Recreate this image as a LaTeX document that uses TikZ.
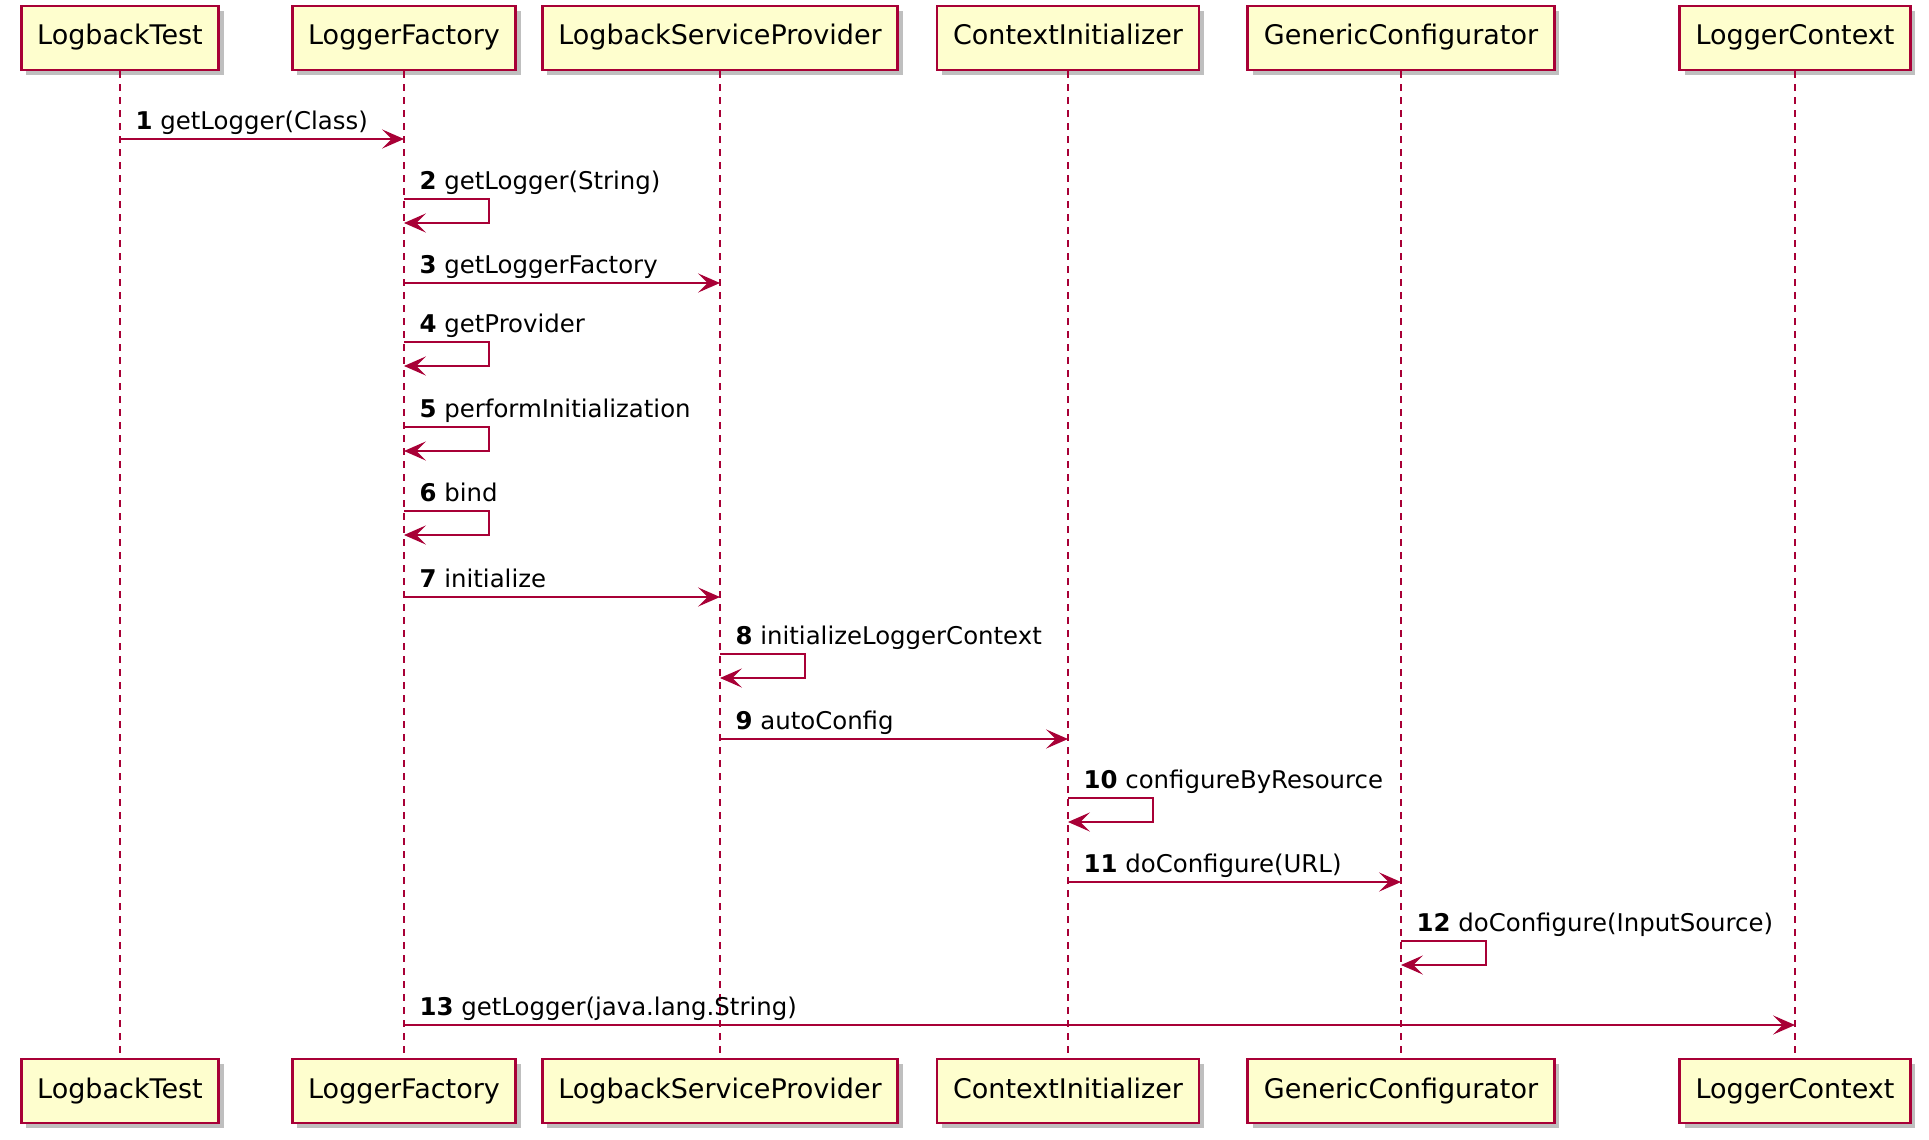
\documentclass[tikz,border=0pt]{standalone}
\usepackage{fontspec}
\setmainfont{DejaVu Sans}
\usepackage{xcolor}
\usepackage{tikz}
\usetikzlibrary{arrows.meta,shadows}

\definecolor{umlred}{HTML}{A80036}
\definecolor{umlfill}{HTML}{FEFECE}

\begin{document}
\begin{tikzpicture}[
			x=0.5pt, y=-0.5pt,
			% Define the styles for the participants and the messages
			actor/.style={rectangle, draw=umlred, fill=umlfill, line width=1.4pt, minimum height=32pt, inner xsep=8pt, text height=10pt, text depth=3pt, font=\fontsize{13.5}{16}\selectfont, drop shadow={shadow xshift=2.5pt, shadow yshift=-2.5pt, fill=black!50, opacity=0.5}},
			life/.style={draw=umlred, line width=0.6pt, dash pattern=on 3.5pt off 3pt},
			msg/.style={draw=umlred, line width=0.65pt, -{Stealth[length=11pt, width=9.6pt, inset=4.8pt]}},
			lbl/.style={anchor=base west, inner sep=0pt, xshift=7.5pt, yshift=5pt, font=\fontsize{12.2}{14}\selectfont}
			]
			
			\useasboundingbox (0,0) rectangle (1929,1140);
			
			\node[actor] (ltT) at (120, 38) {LogbackTest};
			\node[actor] (lfT) at (404, 38) {LoggerFactory};
			\node[actor] (lspT) at (720, 38) {LogbackServiceProvider};
			\node[actor] (ciT) at (1068, 38) {ContextInitializer};
			\node[actor] (gcT) at (1401, 38) {GenericConfigurator};
			\node[actor] (lcT) at (1795, 38) {LoggerContext};
			
			\node[actor] (ltB) at (120, 1091) {LogbackTest};
			\node[actor] (lfB) at (404, 1091) {LoggerFactory};
			\node[actor] (lspB) at (720, 1091) {LogbackServiceProvider};
			\node[actor] (ciB) at (1068, 1091) {ContextInitializer};
			\node[actor] (gcB) at (1401, 1091) {GenericConfigurator};
			\node[actor] (lcB) at (1795, 1091) {LoggerContext};
			
			\draw[life] (ltT) -- (ltB);
			\draw[life] (lfT) -- (lfB);
			\draw[life] (lspT) -- (lspB);
			\draw[life] (ciT) -- (ciB);
			\draw[life] (gcT) -- (gcB);
			\draw[life] (lcT) -- (lcB);
			
			\coordinate (m1) at (0, 139);
			\coordinate (m2) at (0, 199);
			\coordinate (m3) at (0, 283);
			\coordinate (m4) at (0, 342);
			\coordinate (m5) at (0, 427);
			\coordinate (m6) at (0, 511);
			\coordinate (m7) at (0, 597);
			\coordinate (m8) at (0, 654);
			\coordinate (m9) at (0, 739);
			\coordinate (m10) at (0, 798);
			\coordinate (m11) at (0, 882);
			\coordinate (m12) at (0, 941);
			\coordinate (m13) at (0, 1025);
			
			\draw[msg] (ltT |- m1) node[lbl] (t1) {\textbf{1} getLogger(Class)} -- (lfT |- m1);
			\draw[msg] (lfT |- m2) node[lbl] (t2) {\textbf{2} getLogger(String)} -- ++(85,0) -- ++(0,24) -- ++(-85,0);
			\draw[msg] (lfT |- m3) node[lbl] (t3) {\textbf{3} getLoggerFactory} -- (lspT |- m3);
			\draw[msg] (lfT |- m4) node[lbl] (t4) {\textbf{4} getProvider} -- ++(85,0) -- ++(0,24) -- ++(-85,0);
			\draw[msg] (lfT |- m5) node[lbl] (t5) {\textbf{5} performInitialization} -- ++(85,0) -- ++(0,24) -- ++(-85,0);
			\draw[msg] (lfT |- m6) node[lbl] (t6) {\textbf{6} bind} -- ++(85,0) -- ++(0,24) -- ++(-85,0);
			\draw[msg] (lfT |- m7) node[lbl] (t7) {\textbf{7} initialize} -- (lspT |- m7);
			\draw[msg] (lspT |- m8) node[lbl] (t8) {\textbf{8} initializeLoggerContext} -- ++(85,0) -- ++(0,24) -- ++(-85,0);
			\draw[msg] (lspT |- m9) node[lbl] (t9) {\textbf{9} autoConfig} -- (ciT |- m9);
			\draw[msg] (ciT |- m10) node[lbl] (t10) {\textbf{10} configureByResource} -- ++(85,0) -- ++(0,24) -- ++(-85,0);
			\draw[msg] (ciT |- m11) node[lbl] (t11) {\textbf{11} doConfigure(URL)} -- (gcT |- m11);
			\draw[msg] (gcT |- m12) node[lbl] (t12) {\textbf{12} doConfigure(InputSource)} -- ++(85,0) -- ++(0,24) -- ++(-85,0);
			\draw[msg] (lfT |- m13) node[lbl] (t13) {\textbf{13} getLogger(java.lang.String)} -- (lcT |- m13);
			
		\end{tikzpicture}
\end{document}
